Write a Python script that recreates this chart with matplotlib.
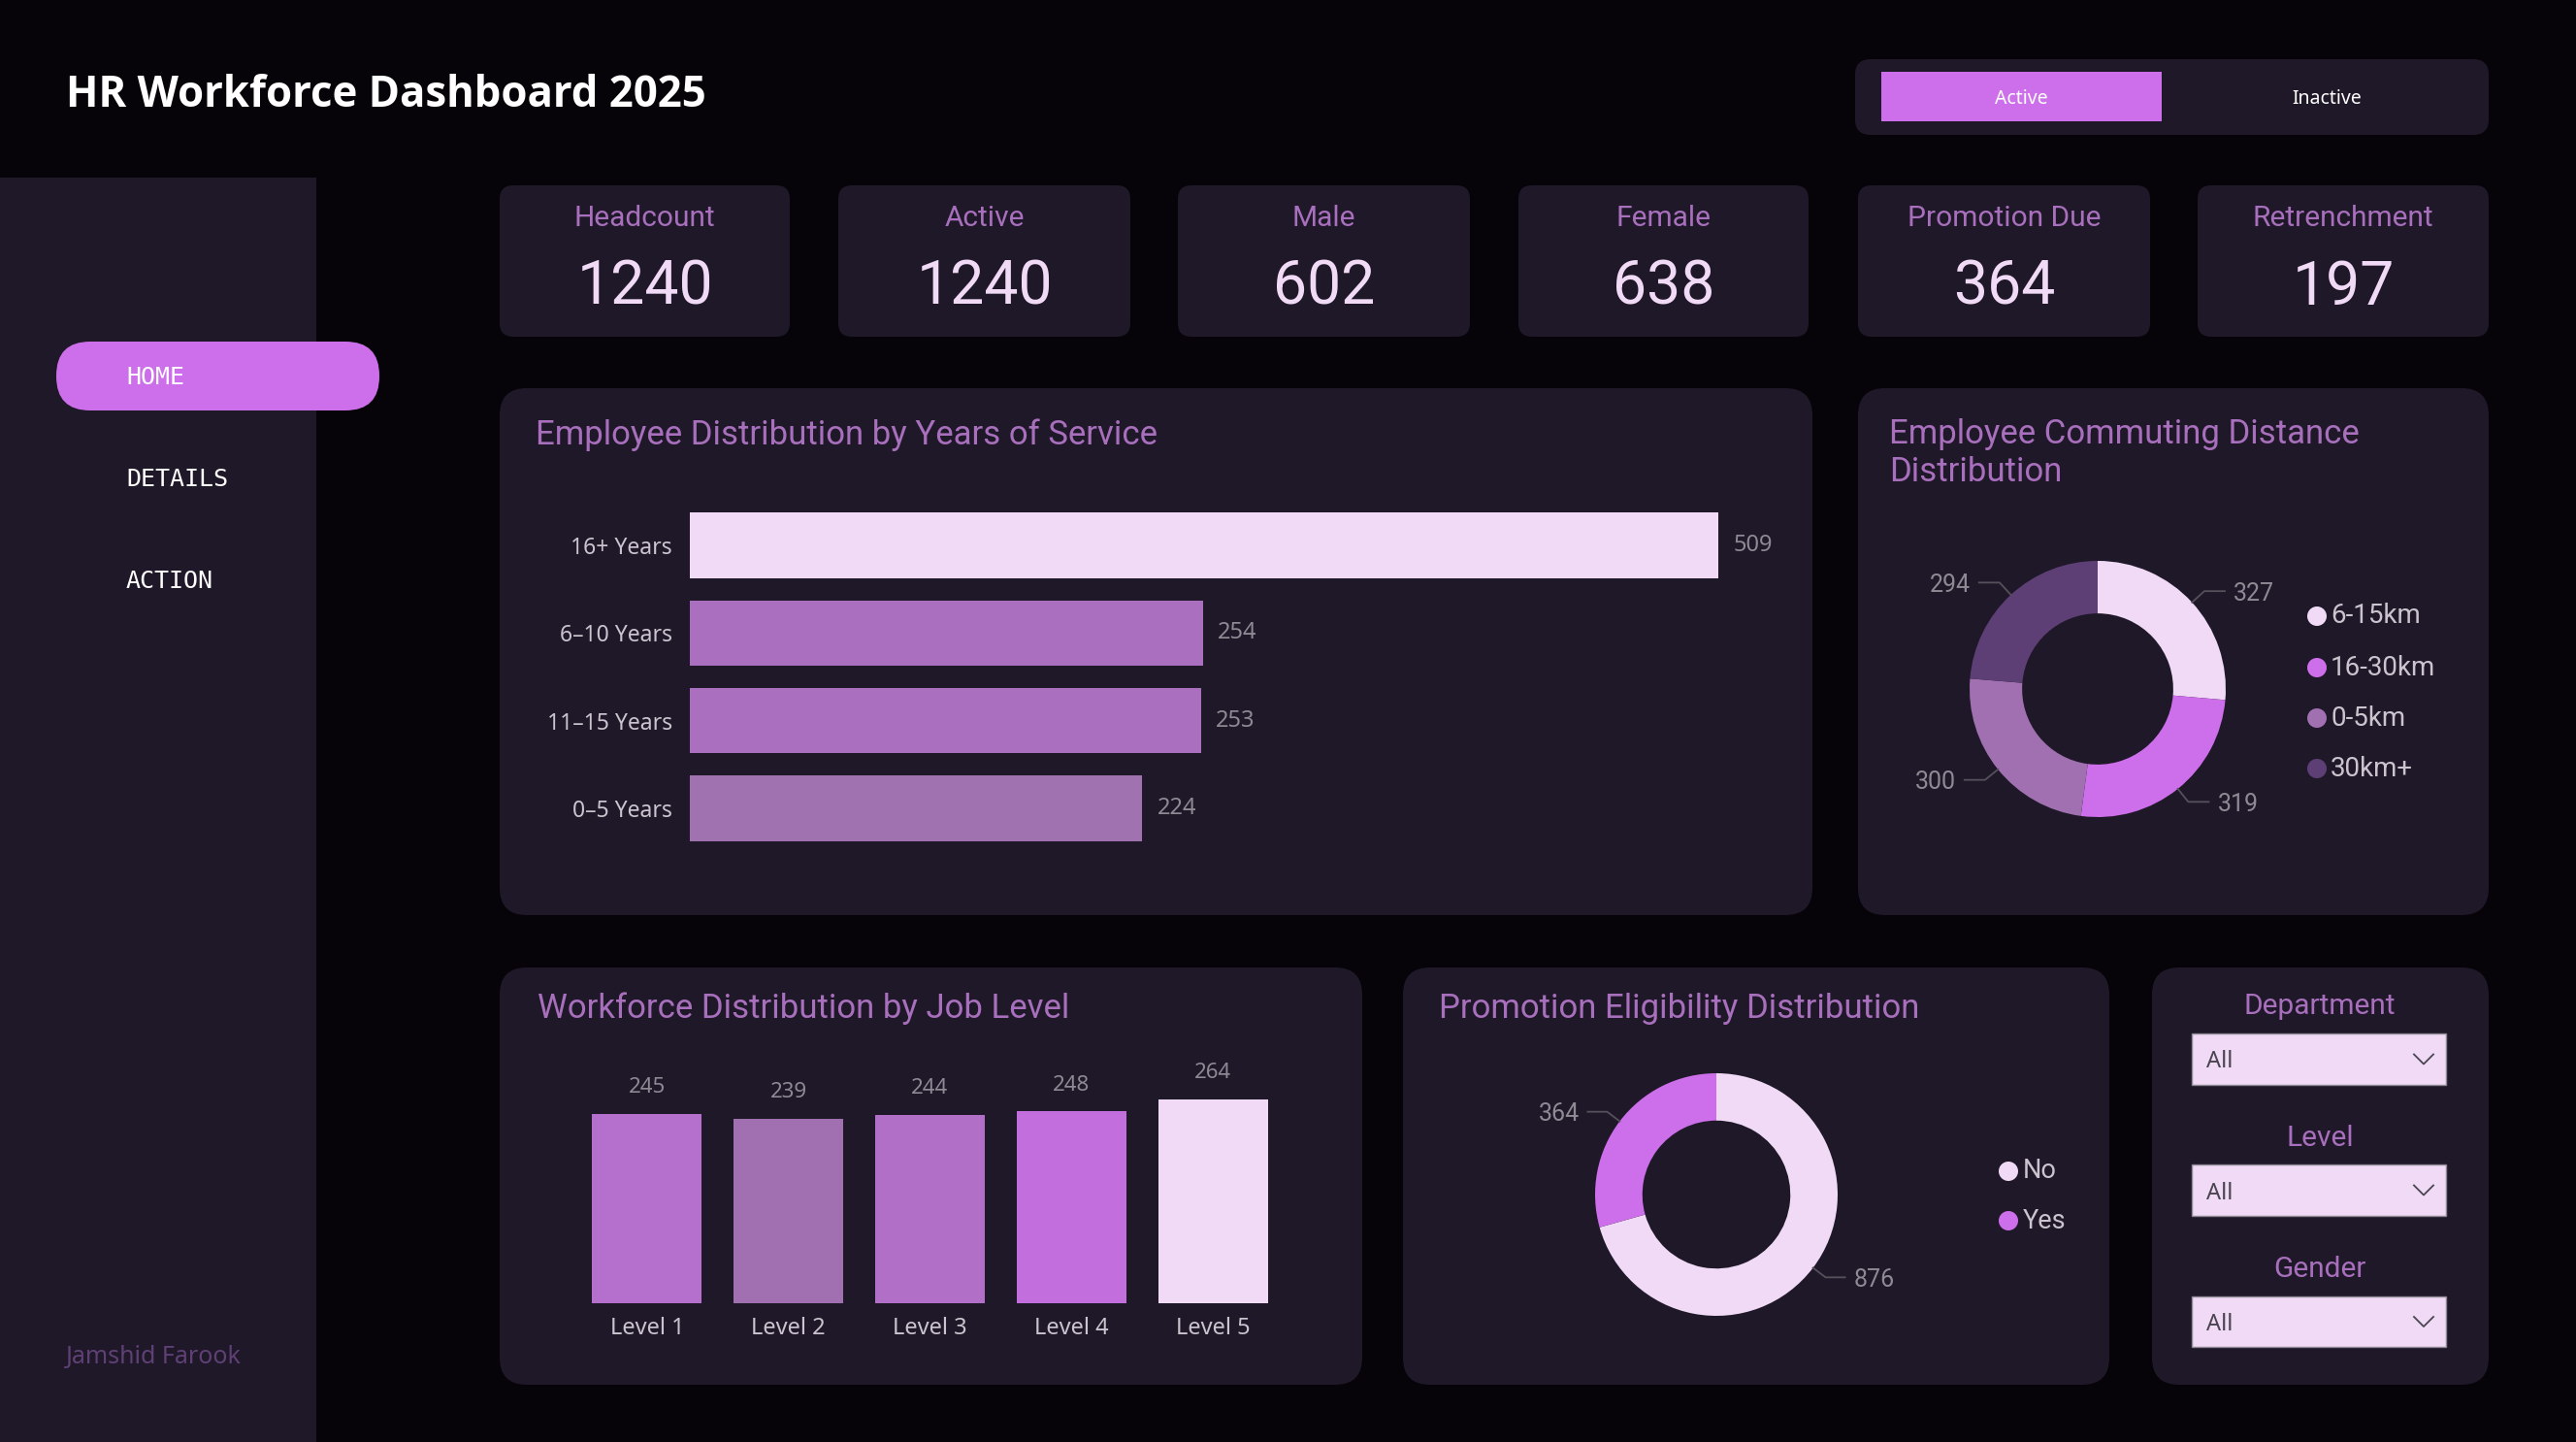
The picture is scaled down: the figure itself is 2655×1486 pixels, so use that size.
import matplotlib
matplotlib.use("Agg")
import matplotlib.pyplot as plt
from matplotlib.patches import FancyBboxPatch, Rectangle, Circle
import numpy as np

# ---------------- data ----------------
dashboard_title = "HR Workforce Dashboard 2025"
nav_items = ["HOME", "DETAILS", "ACTION"]
toggle_labels = ["Active", "Inactive"]
kpi_labels = ["Headcount", "Active", "Male", "Female", "Promotion Due", "Retrenchment"]
kpi_values = [1240, 1240, 602, 638, 364, 197]
service_categories = ["16+ Years", "6–10 Years", "11–15 Years", "0–5 Years"]
service_counts = [509, 254, 253, 224]
commute_categories = ["6-15km", "16-30km", "0-5km", "30km+"]
commute_counts = [327, 319, 300, 294]
job_levels = ["Level 1", "Level 2", "Level 3", "Level 4", "Level 5"]
job_counts = [245, 239, 244, 248, 264]
promo_categories = ["No", "Yes"]
promo_counts = [876, 364]
filter_labels = ["Department", "Level", "Gender"]
filter_values = ["All", "All", "All"]
author = "Jamshid Farook"

# ---------------- style ----------------
W, H = 2655, 1486
BG = "#060409"
PANEL = "#1f1829"
ACCENT = "#cd6fea"
LIGHT = "#f0daf5"
TITLE_C = "#a86fbc"
LABEL_C = "#cbc4ce"
VAL_C = "#8f8994"
LEADER_C = "#55505a"
service_colors = [LIGHT, "#aa70bf", "#aa70bf", "#a172b0"]
commute_colors = [LIGHT, ACCENT, "#a070b0", "#5e3f75"]
job_colors = ["#b56fcd", "#a070b0", "#b26fc8", "#c26edd", LIGHT]
promo_colors = [LIGHT, ACCENT]

DIN = ["Roboto", "DejaVu Sans"]
SEG = ["Noto Sans", "DejaVu Sans"]
HEAD = ["Open Sans", "DejaVu Sans"]
MONO = ["DejaVu Sans Mono"]

fig = plt.figure(figsize=(W / 100, H / 100), dpi=100)
fig.patch.set_facecolor(BG)
bg = fig.add_axes([0, 0, 1, 1])
bg.set_xlim(0, W)
bg.set_ylim(H, 0)
bg.axis("off")
bg.set_facecolor(BG)


def px_axes(x0, y0, x1, y1):
    ax = fig.add_axes([x0 / W, 1 - y1 / H, (x1 - x0) / W, (y1 - y0) / H])
    ax.patch.set_alpha(0)
    return ax


def rbox(x0, y0, x1, y1, r, color, z=1, ec="none", lw=0):
    p = FancyBboxPatch((x0, y0), x1 - x0, y1 - y0,
                       boxstyle=f"round,pad=0,rounding_size={r}",
                       fc=color, ec=ec, lw=lw, zorder=z)
    bg.add_patch(p)


# ---------------- header & sidebar ----------------
bg.text(68, 98, dashboard_title, color="white", fontsize=31.5, fontweight="bold",
        family=HEAD, va="center", ha="left")

bg.add_patch(Rectangle((0, 183), 326, H - 183, fc=PANEL, ec="none", zorder=1))
rbox(58, 352, 391, 423, 35, ACCENT, z=2)
for name, y in zip(nav_items, [389, 494, 599]):
    bg.text(130, y, name, color="white", fontsize=18, family=MONO,
            va="center", ha="left", zorder=3)
bg.text(68, 1398, author, color="#5e4075", fontsize=18, family=SEG,
        va="center", ha="left", zorder=3)

# toggle
rbox(1912, 61, 2565, 139, 16, PANEL)
bg.add_patch(Rectangle((1939, 74), 289, 51, fc=ACCENT, ec="none", zorder=2))
for lab, x in zip(toggle_labels, [2083, 2398]):
    bg.text(x, 102, lab, color="white", fontsize=14, family=SEG,
            va="center", ha="center", zorder=3)

# ---------------- KPI cards ----------------
card_x = [(515, 814), (864, 1165), (1214, 1515), (1565, 1864), (1915, 2216), (2265, 2565)]
for (x0, x1), lab, val in zip(card_x, kpi_labels, kpi_values):
    rbox(x0, 191, x1, 347, 14, PANEL)
    cx = (x0 + x1) / 2
    bg.text(cx, 225, lab, color=TITLE_C, fontsize=21.5, family=DIN,
            va="center", ha="center", zorder=3)
    bg.text(cx, 297, f"{val}", color=LIGHT, fontsize=45, family=DIN,
            va="center", ha="center", zorder=3)

# ---------------- panels ----------------
rbox(515, 400, 1868, 943, 28, PANEL)
rbox(1915, 400, 2565, 943, 28, PANEL)
rbox(515, 997, 1404, 1427, 28, PANEL)
rbox(1446, 997, 2174, 1427, 28, PANEL)
rbox(2218, 997, 2565, 1427, 28, PANEL)

TS = 25
bg.text(552, 448, "Employee Distribution by Years of Service", color=TITLE_C,
        fontsize=TS, family=DIN, va="center", ha="left", zorder=3)
bg.text(1947, 448, "Employee Commuting Distance", color=TITLE_C,
        fontsize=TS, family=DIN, va="center", ha="left", zorder=3)
bg.text(1947, 487, "Distribution", color=TITLE_C,
        fontsize=TS, family=DIN, va="center", ha="left", zorder=3)
bg.text(554, 1039, "Workforce Distribution by Job Level", color=TITLE_C,
        fontsize=TS, family=DIN, va="center", ha="left", zorder=3)
bg.text(1483, 1039, "Promotion Eligibility Distribution", color=TITLE_C,
        fontsize=TS, family=DIN, va="center", ha="left", zorder=3)

# ---------------- years of service (horizontal bars) ----------------
ax1 = px_axes(711, 517, 1868, 878)
bars = ax1.barh(service_categories, service_counts, height=0.75, color=service_colors)
ax1.set_xlim(0, 1157 / 1060 * 509)
ax1.set_ylim(3.5, -0.5)
for s in ax1.spines.values():
    s.set_visible(False)
ax1.xaxis.set_visible(False)
ax1.tick_params(axis="y", length=0, pad=13, labelsize=16.5, labelcolor=LABEL_C)
for t in ax1.get_yticklabels():
    t.set_fontfamily(SEG)
ax1.bar_label(bars, padding=11, color=VAL_C, fontsize=17, family=SEG)

# ---------------- job level (vertical bars) ----------------
ax2 = px_axes(594, 1080, 1323, 1343)
bars2 = ax2.bar(job_levels, job_counts, width=0.775, color=job_colors)
ax2.set_xlim(-0.5, 4.5)
ax2.set_ylim(0, 330)
for s in ax2.spines.values():
    s.set_visible(False)
ax2.yaxis.set_visible(False)
ax2.tick_params(axis="x", length=0, pad=10, labelsize=17, labelcolor=LABEL_C)
for t in ax2.get_xticklabels():
    t.set_fontfamily(SEG)
ax2.bar_label(bars2, padding=12, color=VAL_C, fontsize=16, family=SEG)


# ---------------- donuts ----------------
def donut(cx, cy, R, values, colors, width):
    half = 1.8 * R
    ax = px_axes(cx - half, cy - half, cx + half, cy + half)
    wedges, _ = ax.pie(values, colors=colors, startangle=90, counterclock=False,
                       radius=1.0, wedgeprops=dict(width=width, edgecolor="none"))
    ax.set_xlim(-1.8, 1.8)
    ax.set_ylim(-1.8, 1.8)
    ax.set_aspect("equal")
    ax.axis("off")
    for w, v in zip(wedges, values):
        ang = np.deg2rad((w.theta1 + w.theta2) / 2)
        d = np.array([np.cos(ang), np.sin(ang)])
        sign = 1 if d[0] >= 0 else -1
        p1 = 1.0 * d
        p2 = 1.13 * d
        p3 = p2 + np.array([sign * 0.16, 0])
        ax.plot([p1[0], p2[0], p3[0]], [p1[1], p2[1], p3[1]], color=LEADER_C, lw=1.3)
        ax.text(p3[0] + sign * 0.07, p3[1] - 0.02, f"{v}", color=VAL_C, fontsize=18,
                family=DIN, va="center", ha="left" if sign > 0 else "right")
    return ax


donut(2162, 710, 132, commute_counts, commute_colors, 0.41)
donut(1769, 1231, 125, promo_counts, promo_colors, 0.39)

# legends
for lab, col, y in zip(commute_categories, commute_colors, [635, 688, 740, 792]):
    bg.add_patch(Circle((2388, y), 10, fc=col, ec="none", zorder=3))
    bg.text(2402, y, lab, color=LABEL_C, fontsize=20, family=DIN,
            va="center", ha="left", zorder=3)
for lab, col, y in zip(promo_categories, promo_colors, [1207, 1258]):
    bg.add_patch(Circle((2070, y), 10, fc=col, ec="none", zorder=3))
    bg.text(2085, y, lab, color=LABEL_C, fontsize=19.5, family=DIN,
            va="center", ha="left", zorder=3)

# ---------------- slicers ----------------
label_y = [1037, 1173, 1308]
box_y = [(1065, 1118), (1200, 1253), (1336, 1388)]
for lab, val, ly, (b0, b1) in zip(filter_labels, filter_values, label_y, box_y):
    bg.text(2391, ly, lab, color=TITLE_C, fontsize=21.5, family=DIN,
            va="center", ha="center", zorder=3)
    bg.add_patch(Rectangle((2259, b0), 262, b1 - b0, fc=LIGHT, ec="#8e8893",
                           lw=1, zorder=2))
    cy = (b0 + b1) / 2
    bg.text(2274, cy + 3, val, color="#4a4550", fontsize=17, family=SEG,
            va="center", ha="left", zorder=3)
    bg.plot([2488, 2498, 2508], [cy - 5, cy + 5, cy - 5], color="#4a4550",
            lw=1.3, zorder=3)

fig.savefig("out.png", dpi=100, facecolor=BG)
